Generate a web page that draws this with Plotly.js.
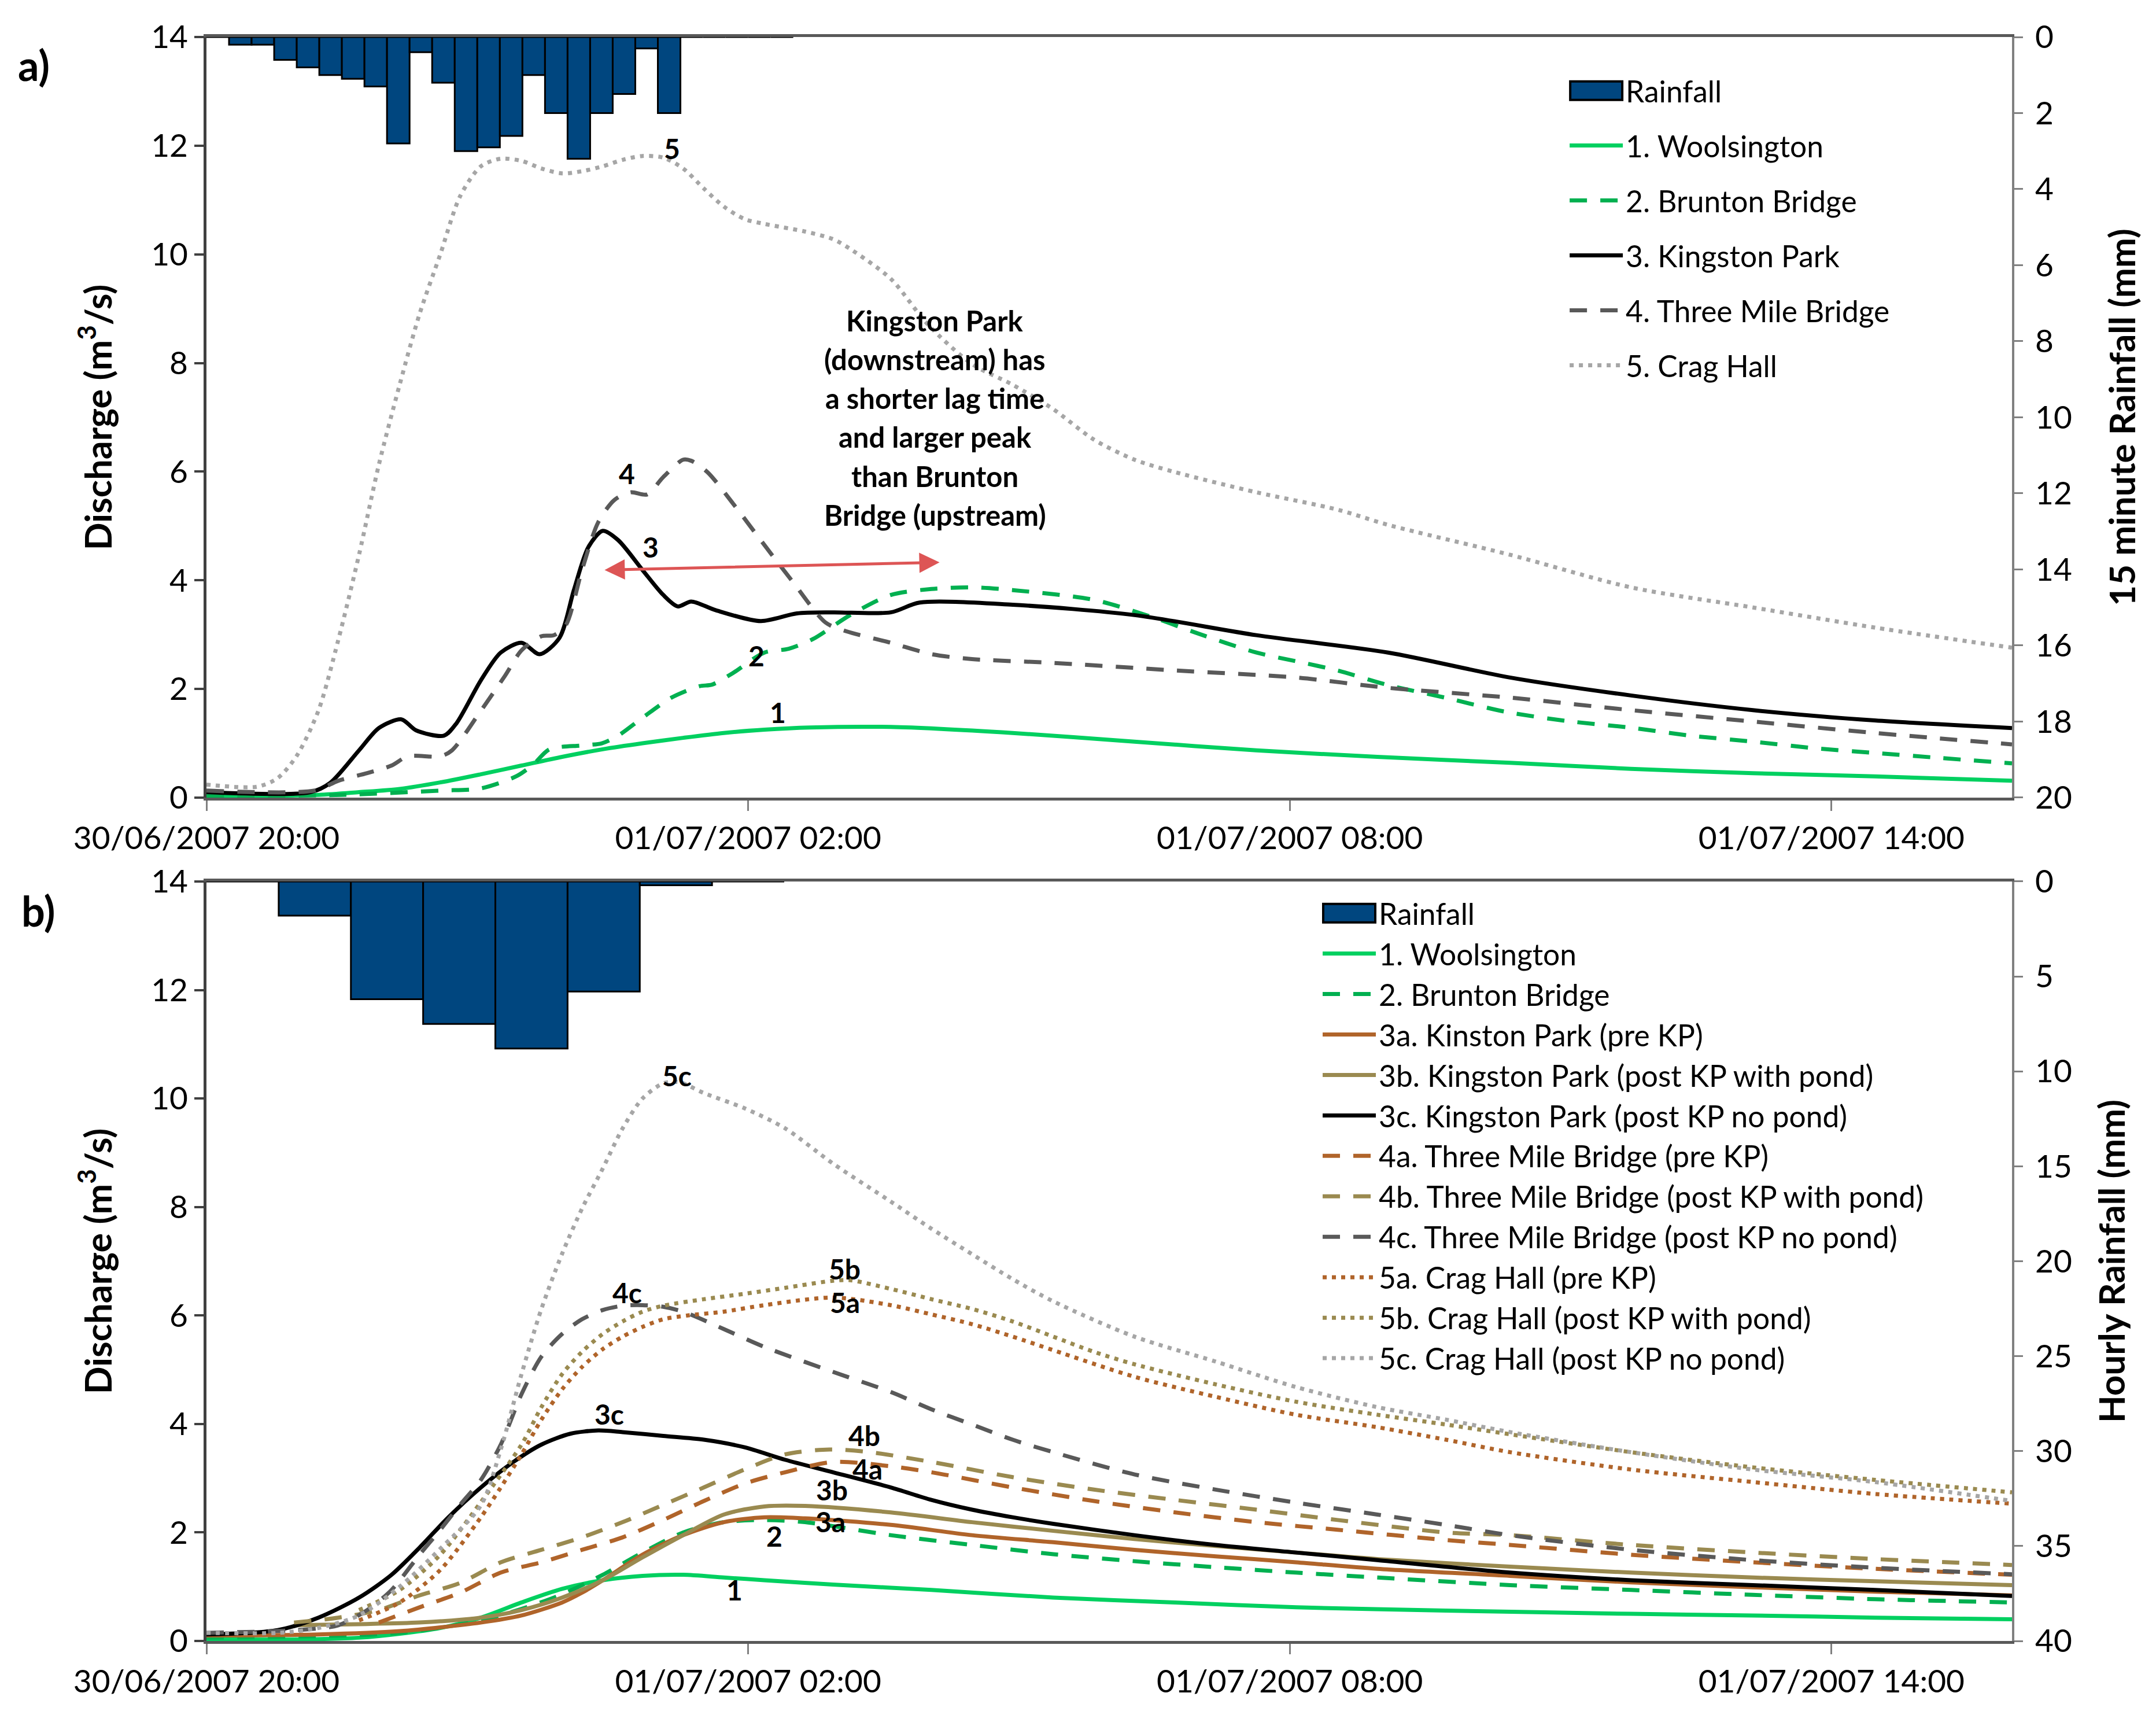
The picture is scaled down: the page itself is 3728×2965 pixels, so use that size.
<!DOCTYPE html>
<html>
<head>
<meta charset="utf-8">
<script src="https://cdn.plot.ly/plotly-3.0.1.min.js"></script>
<style>html,body{margin:0;padding:0;background:#fff;}#chart{width:3728px;height:2965px;}</style>
</head>
<body>
<div id="chart"></div>
<script>
// ---------- DATA (hours after 30/06/2007 20:00, discharge m3/s) ----------
// Panel a: 15-minute rainfall (mm), one value per 15-minute category slot
const rainA = [0, 0.2, 0.2, 0.6, 0.8, 1.0, 1.1, 1.3, 2.8, 0.4, 1.2, 3.0, 2.9, 2.6, 1.0, 2.0, 3.2, 2.0, 1.5, 0.3, 2.0, 0, 0, 0, 0, 0];
// Panel b: hourly rainfall (mm), one value per category slot
const rainB = [0, 1.8, 6.2, 7.5, 8.8, 5.8, 0.2, 0];

// Panel a series
const a1_t = [0, 1.24, 1.69, 2.14, 2.59, 3.04, 3.49, 3.94, 4.39, 4.83, 5.28, 5.73, 6.18, 6.68, 7.58, 8.93, 10.28, 11.63, 12.97, 14.44, 15.78, 17.13, 18.48, 20];
const a1_v = [0.03, 0.05, 0.10, 0.16, 0.28, 0.43, 0.59, 0.75, 0.89, 1.0, 1.10, 1.19, 1.25, 1.29, 1.30, 1.19, 1.03, 0.87, 0.75, 0.64, 0.53, 0.45, 0.39, 0.31];
const a2_t = [0, 1.5, 2.59, 3.04, 3.44, 3.62, 3.80, 4.16, 4.38, 4.56, 4.83, 5.15, 5.46, 5.60, 5.82, 6.18, 6.45, 6.72, 7.13, 7.58, 8.03, 8.48, 8.93, 9.83, 10.5, 10.95, 11.63, 12.07, 12.53, 13.09, 13.72, 14.39, 15.07, 15.76, 16.44, 17.13, 17.81, 18.5, 19.2, 20];
const a2_v = [0.03, 0.05, 0.13, 0.17, 0.40, 0.61, 0.89, 0.96, 1.0, 1.14, 1.47, 1.84, 2.05, 2.08, 2.28, 2.67, 2.74, 2.92, 3.36, 3.73, 3.84, 3.87, 3.82, 3.64, 3.31, 3.04, 2.67, 2.51, 2.34, 2.07, 1.84, 1.58, 1.41, 1.29, 1.14, 1.03, 0.91, 0.82, 0.73, 0.63];
const a3_t = [0, 1.15, 1.37, 1.69, 1.91, 2.16, 2.32, 2.63, 2.77, 3.04, 3.26, 3.49, 3.69, 3.91, 4.07, 4.23, 4.39, 4.56, 4.83, 5.06, 5.22, 5.37, 5.64, 6.14, 6.54, 6.94, 7.58, 7.90, 8.93, 10.28, 11.63, 13.09, 14.44, 15.78, 17.13, 18.48, 20];
const a3_v = [0.1, 0.1, 0.27, 0.87, 1.28, 1.44, 1.24, 1.14, 1.37, 2.16, 2.67, 2.85, 2.64, 2.94, 3.82, 4.61, 4.91, 4.74, 4.19, 3.73, 3.52, 3.61, 3.45, 3.25, 3.39, 3.41, 3.41, 3.59, 3.55, 3.36, 2.99, 2.67, 2.21, 1.88, 1.61, 1.42, 1.28];
const a4_t = [0, 1.2, 1.46, 1.78, 2.05, 2.23, 2.59, 2.72, 3.04, 3.31, 3.49, 3.71, 3.85, 3.98, 4.16, 4.34, 4.52, 4.70, 4.88, 5.06, 5.28, 5.37, 5.55, 5.82, 6.18, 6.50, 6.86, 7.09, 7.58, 8.03, 8.48, 9.38, 10.73, 12.07, 13.09, 14.44, 15.78, 17.13, 18.48, 20];
const a4_v = [0.13, 0.13, 0.31, 0.45, 0.59, 0.76, 0.76, 0.87, 1.60, 2.25, 2.71, 2.97, 2.99, 3.17, 4.19, 5.07, 5.48, 5.62, 5.58, 5.90, 6.22, 6.20, 5.99, 5.44, 4.65, 3.96, 3.22, 3.06, 2.85, 2.64, 2.55, 2.48, 2.34, 2.21, 2.02, 1.84, 1.61, 1.40, 1.19, 0.98];
const a5_t = [0, 0.56, 0.79, 1.0, 1.24, 1.46, 1.69, 1.91, 2.14, 2.36, 2.59, 2.81, 3.04, 3.26, 3.49, 3.71, 3.94, 4.16, 4.39, 4.61, 4.83, 5.06, 5.28, 5.51, 5.73, 5.96, 6.18, 6.63, 6.94, 7.13, 7.58, 7.99, 8.48, 8.93, 9.38, 9.83, 10.28, 10.73, 11.63, 12.53, 13.09, 14.44, 15.78, 17.13, 18.48, 20];
const a5_v = [0.24, 0.2, 0.36, 0.77, 1.6, 2.9, 4.47, 6.13, 7.6, 8.9, 10.0, 11.07, 11.62, 11.76, 11.72, 11.58, 11.49, 11.53, 11.62, 11.74, 11.81, 11.78, 11.58, 11.21, 10.88, 10.65, 10.56, 10.42, 10.28, 10.1, 9.55, 8.71, 7.98, 7.6, 7.15, 6.59, 6.22, 5.99, 5.62, 5.3, 5.02, 4.47, 3.87, 3.5, 3.13, 2.76];

// Panel b series
const b1_t = [0, 1.69, 2.59, 3.04, 3.49, 3.94, 4.39, 4.83, 5.28, 5.73, 6.18, 6.94, 8.03, 9.38, 10.73, 12.07, 13.73, 15.78, 17.13, 18.48, 20];
const b1_v = [0.03, 0.06, 0.24, 0.43, 0.71, 0.96, 1.12, 1.2, 1.22, 1.17, 1.12, 1.04, 0.94, 0.8, 0.71, 0.62, 0.56, 0.5, 0.47, 0.43, 0.4];
const b2_t = [0, 2.14, 3.04, 3.49, 3.94, 4.39, 4.83, 5.28, 5.73, 6.18, 6.63, 7.58, 8.48, 9.38, 10.28, 11.18, 12.07, 12.97, 14.44, 15.78, 17.13, 18.48, 20];
const b2_v = [0.06, 0.15, 0.38, 0.59, 0.86, 1.22, 1.63, 2.0, 2.19, 2.23, 2.19, 1.95, 1.77, 1.6, 1.47, 1.36, 1.26, 1.17, 1.03, 0.94, 0.85, 0.77, 0.71];
const b3a_t = [0, 1.24, 2.14, 3.04, 3.49, 3.94, 4.16, 4.39, 4.83, 5.28, 5.73, 6.18, 6.63, 7.58, 8.48, 9.38, 10.28, 11.18, 12.07, 12.97, 14.44, 15.78, 17.13, 18.48, 20];
const b3a_v = [0.1, 0.12, 0.18, 0.34, 0.47, 0.71, 0.89, 1.12, 1.59, 1.95, 2.19, 2.28, 2.26, 2.14, 1.95, 1.82, 1.68, 1.56, 1.45, 1.33, 1.2, 1.08, 0.99, 0.91, 0.84];
const b3b_t = [0.97, 1.69, 2.36, 3.04, 3.49, 3.94, 4.39, 4.83, 5.28, 5.73, 6.18, 6.63, 7.58, 8.48, 9.38, 10.28, 11.18, 12.07, 12.97, 14.44, 15.78, 17.13, 18.48, 20];
const b3b_v = [0.29, 0.31, 0.34, 0.43, 0.57, 0.8, 1.12, 1.54, 1.95, 2.33, 2.48, 2.49, 2.37, 2.19, 2.03, 1.88, 1.75, 1.63, 1.51, 1.37, 1.26, 1.17, 1.1, 1.03];
const b3c_t = [0, 0.79, 1.24, 1.69, 2.05, 2.36, 2.68, 3.04, 3.40, 3.71, 4.03, 4.34, 4.61, 5.06, 5.51, 5.96, 6.41, 6.94, 7.58, 8.03, 8.48, 8.93, 9.38, 10.28, 11.18, 12.07, 12.97, 14.44, 15.78, 17.13, 18.48, 20];
const b3c_v = [0.12, 0.2, 0.43, 0.8, 1.22, 1.72, 2.28, 2.83, 3.3, 3.62, 3.82, 3.88, 3.85, 3.78, 3.71, 3.57, 3.34, 3.11, 2.83, 2.6, 2.42, 2.28, 2.16, 1.95, 1.77, 1.63, 1.49, 1.26, 1.12, 1.03, 0.94, 0.83];
const b4a_t = [1.91, 2.36, 2.81, 3.26, 3.71, 4.16, 4.61, 5.06, 5.51, 5.96, 6.41, 6.94, 7.58, 8.03, 8.93, 9.83, 10.73, 11.63, 12.53, 13.73, 14.44, 15.78, 17.13, 18.48, 20];
const b4a_v = [0.34, 0.62, 0.89, 1.26, 1.45, 1.68, 1.91, 2.23, 2.58, 2.9, 3.11, 3.3, 3.22, 3.11, 2.83, 2.58, 2.37, 2.19, 2.05, 1.86, 1.77, 1.59, 1.45, 1.33, 1.22];
const b4b_t = [0.97, 1.46, 1.91, 2.36, 2.81, 3.26, 3.71, 4.16, 4.61, 5.06, 5.51, 5.96, 6.41, 6.9, 7.35, 8.03, 8.93, 9.83, 10.73, 11.63, 12.53, 13.73, 14.44, 15.78, 17.13, 18.48, 20];
const b4b_v = [0.34, 0.43, 0.57, 0.84, 1.07, 1.45, 1.68, 1.91, 2.19, 2.51, 2.83, 3.16, 3.44, 3.53, 3.48, 3.3, 3.02, 2.79, 2.6, 2.42, 2.23, 2.0, 1.95, 1.77, 1.63, 1.51, 1.4];
const b4c_t = [0, 1.0, 1.46, 1.78, 2.05, 2.36, 2.59, 2.81, 3.04, 3.26, 3.49, 3.71, 3.94, 4.16, 4.39, 4.61, 4.83, 5.06, 5.28, 5.73, 6.18, 6.94, 7.58, 8.03, 8.48, 8.93, 9.38, 10.28, 11.18, 12.07, 12.97, 13.73, 14.44, 15.78, 17.13, 18.48, 20];
const b4c_v = [0.15, 0.2, 0.29, 0.57, 0.94, 1.59, 2.05, 2.51, 2.97, 3.62, 4.55, 5.24, 5.66, 5.93, 6.1, 6.18, 6.19, 6.16, 6.07, 5.75, 5.42, 4.96, 4.59, 4.27, 3.99, 3.71, 3.48, 3.07, 2.79, 2.55, 2.33, 2.14, 1.95, 1.68, 1.49, 1.35, 1.23];
const b5a_t = [1.69, 2.14, 2.59, 3.04, 3.26, 3.49, 3.71, 3.94, 4.16, 4.39, 4.61, 4.83, 5.06, 5.33, 5.73, 6.18, 6.94, 7.58, 8.03, 8.48, 8.93, 9.38, 10.28, 11.18, 12.07, 12.97, 13.73, 14.44, 15.78, 17.13, 18.48, 20];
const b5a_v = [0.38, 0.71, 1.31, 2.28, 2.83, 3.44, 4.08, 4.64, 5.05, 5.38, 5.61, 5.79, 5.93, 6.0, 6.07, 6.19, 6.33, 6.19, 6.02, 5.84, 5.61, 5.36, 4.87, 4.5, 4.17, 3.94, 3.71, 3.48, 3.16, 2.93, 2.71, 2.53];
const b5b_t = [1.69, 2.14, 2.59, 3.04, 3.49, 3.71, 3.94, 4.16, 4.39, 4.61, 4.83, 5.06, 5.51, 5.96, 6.41, 6.94, 7.13, 7.58, 8.03, 8.48, 8.93, 9.38, 9.83, 10.28, 11.18, 12.07, 12.97, 13.73, 14.44, 15.78, 17.13, 18.48, 20];
const b5b_v = [0.57, 0.94, 1.59, 2.56, 3.62, 4.31, 4.92, 5.33, 5.66, 5.89, 6.07, 6.18, 6.3, 6.4, 6.51, 6.64, 6.65, 6.49, 6.3, 6.12, 5.89, 5.61, 5.33, 5.1, 4.73, 4.41, 4.17, 3.99, 3.81, 3.48, 3.2, 2.97, 2.74];
const b5c_t = [0, 0.79, 1.24, 1.69, 2.14, 2.59, 3.04, 3.26, 3.49, 3.71, 3.94, 4.16, 4.39, 4.61, 4.83, 5.06, 5.24, 5.51, 5.96, 6.41, 6.94, 7.58, 8.03, 8.48, 8.93, 9.38, 10.28, 11.18, 12.07, 12.97, 13.73, 14.44, 15.78, 17.13, 18.48, 20];
const b5c_v = [0.15, 0.15, 0.24, 0.47, 1.0, 1.7, 2.5, 3.53, 4.92, 6.12, 7.14, 7.97, 8.71, 9.45, 10.0, 10.28, 10.3, 10.1, 9.82, 9.45, 8.8, 8.1, 7.6, 7.13, 6.67, 6.26, 5.61, 5.15, 4.68, 4.31, 4.08, 3.85, 3.48, 3.16, 2.93, 2.58];

// Curve labels [text, hours, value]
const labelsA = [["5", 5.16, 11.95], ["4", 4.66, 5.97], ["3", 4.92, 4.61], ["2", 6.09, 2.61], ["1", 6.33, 1.57]];
const labelsB = [["5c", 5.21, 10.42], ["4c", 4.66, 6.42], ["3c", 4.46, 4.18], ["5b", 7.07, 6.86], ["5a", 7.07, 6.24],
                 ["4b", 7.29, 3.79], ["4a", 7.32, 3.17], ["3b", 6.93, 2.79], ["3a", 6.91, 2.20], ["2", 6.29, 1.93], ["1", 5.85, 0.94]];
const noteLines = ["Kingston Park", "(downstream) has", "a shorter lag time", "and larger peak", "than Brunton", "Bridge (upstream)"];
const noteTop = [8.07, 8.78];   // centre x (hours) and value of first line
const noteStep = 0.714;         // line spacing in discharge units
const arrowA = [[4.41, 4.19], [8.13, 4.33]];

// ---------- helpers ----------
const T0 = Date.UTC(2007, 5, 30, 20, 0, 0);
function toDate(h) { return new Date(T0 + Math.round(h * 3600000)).toISOString().slice(0, 19).replace('T', ' '); }
function dates(arr) { return arr.map(toDate); }
function idx(arr) { return arr.map((_, i) => i); }

const FONT = 'Lato, "Open Sans", sans-serif';
const C = {
  rain: '#00467F', green1: '#00D060', green2: '#00B050', black: '#000000',
  grey4: '#595959', grey5: '#A6A6A6', brown: '#B0642A', olive: '#9A8A50', red: '#DD5555'
};
const LW = 7;
const DASH = '30px,23px';
const DOT = '7px,9px';

function line(name, t, v, color, dash, xa, ya, leg, grp) {
  return { type: 'scatter', mode: 'lines', name: name, x: dates(t), y: v, xaxis: xa, yaxis: ya,
    line: { color: color, width: LW, dash: dash, shape: 'spline', smoothing: 0.8 },
    legend: leg, legendgroup: grp, hoverinfo: 'skip' };
}

const traces = [
  { type: 'bar', name: 'Rainfall', x: idx(rainA), y: rainA, width: 1, xaxis: 'x3', yaxis: 'y3',
    marker: { color: C.rain, line: { color: '#000', width: 3 } }, legend: 'legend', legendgroup: 'a0' },
  line('1. Woolsington', a1_t, a1_v, C.green1, 'solid', 'x', 'y', 'legend', 'a1'),
  line('2. Brunton Bridge', a2_t, a2_v, C.green2, DASH, 'x', 'y', 'legend', 'a2'),
  line('3. Kingston Park', a3_t, a3_v, C.black, 'solid', 'x', 'y', 'legend', 'a3'),
  line('4. Three Mile Bridge', a4_t, a4_v, C.grey4, DASH, 'x', 'y', 'legend', 'a4'),
  line('5. Crag Hall', a5_t, a5_v, C.grey5, DOT, 'x', 'y', 'legend', 'a5'),

  { type: 'bar', name: 'Rainfall', x: idx(rainB), y: rainB, width: 1, xaxis: 'x4', yaxis: 'y4',
    marker: { color: C.rain, line: { color: '#000', width: 3 } }, legend: 'legend2', legendgroup: 'b0' },
  line('1. Woolsington', b1_t, b1_v, C.green1, 'solid', 'x2', 'y2', 'legend2', 'b1'),
  line('2. Brunton Bridge', b2_t, b2_v, C.green2, DASH, 'x2', 'y2', 'legend2', 'b2'),
  line('3a. Kinston Park (pre KP)', b3a_t, b3a_v, C.brown, 'solid', 'x2', 'y2', 'legend2', 'b3a'),
  line('3b. Kingston Park (post KP with pond)', b3b_t, b3b_v, C.olive, 'solid', 'x2', 'y2', 'legend2', 'b3b'),
  line('3c. Kingston Park (post KP no pond)', b3c_t, b3c_v, C.black, 'solid', 'x2', 'y2', 'legend2', 'b3c'),
  line('4a. Three Mile Bridge (pre KP)', b4a_t, b4a_v, C.brown, DASH, 'x2', 'y2', 'legend2', 'b4a'),
  line('4b. Three Mile Bridge (post KP with pond)', b4b_t, b4b_v, C.olive, DASH, 'x2', 'y2', 'legend2', 'b4b'),
  line('4c. Three Mile Bridge (post KP no pond)', b4c_t, b4c_v, C.grey4, DASH, 'x2', 'y2', 'legend2', 'b4c'),
  line('5a. Crag Hall (pre KP)', b5a_t, b5a_v, C.brown, DOT, 'x2', 'y2', 'legend2', 'b5a'),
  line('5b. Crag Hall (post KP with pond)', b5b_t, b5b_v, C.olive, DOT, 'x2', 'y2', 'legend2', 'b5b'),
  line('5c. Crag Hall (post KP no pond)', b5c_t, b5c_v, C.grey5, DOT, 'x2', 'y2', 'legend2', 'b5c')
];

function dateAxis(anchor) {
  return { type: 'date', anchor: anchor, domain: [0, 1],
    range: [toDate(0), toDate(20)], tick0: toDate(0), dtick: 6 * 3600000, tickformat: '%d/%m/%Y %H:%M',
    ticks: 'outside', ticklen: 18, tickwidth: 3, tickcolor: '#808080',
    showline: true, linecolor: '#595959', linewidth: 5, mirror: true,
    showgrid: false, zeroline: false, tickfont: { family: FONT, size: 55, color: '#000' }, fixedrange: true };
}
function qAxis(domain, anchor, title, standoff) {
  return { domain: domain, anchor: anchor, range: [0, 14], dtick: 2, tick0: 0,
    ticks: 'outside', ticklen: 16, tickwidth: 4, tickcolor: '#404040',
    showline: true, linecolor: '#404040', linewidth: 5,
    showgrid: false, zeroline: false, tickfont: { family: FONT, size: 55, color: '#000' },
    title: { text: title, font: { family: FONT, size: 63, weight: 'bold', color: '#000' }, standoff: standoff } };
}
function rAxis(over, anchor, max, dt, title, standoff) {
  return { overlaying: over, side: 'right', anchor: anchor, range: [max, 0], dtick: dt, tick0: 0,
    ticks: 'outside', ticklen: 15, tickwidth: 3, tickcolor: '#808080', ticklabelstandoff: 10,
    showline: true, linecolor: '#808080', linewidth: 4,
    showgrid: false, zeroline: false, tickfont: { family: FONT, size: 55, color: '#000' },
    title: { text: title, font: { family: FONT, size: 62, weight: 'bold', color: '#000' }, standoff: standoff } };
}

const domA = [0.5258, 1], domB = [0, 0.4735];
const annotations = [];
const LBLFONT = { family: FONT, size: 48, weight: 'bold', color: '#000' };
labelsA.forEach(l => annotations.push({ text: l[0], x: toDate(l[1]), y: l[2], xref: 'x', yref: 'y', showarrow: false,
  xanchor: 'center', yanchor: 'middle', font: LBLFONT }));
labelsB.forEach(l => annotations.push({ text: l[0], x: toDate(l[1]), y: l[2], xref: 'x2', yref: 'y2', showarrow: false,
  xanchor: 'center', yanchor: 'middle', font: LBLFONT }));
noteLines.forEach((s, i) => annotations.push({ text: s, x: toDate(noteTop[0]), y: noteTop[1] - i * noteStep,
  xref: 'x', yref: 'y', showarrow: false, xanchor: 'center', yanchor: 'middle',
  font: { family: FONT, size: 49, weight: 'bold', color: '#000' } }));
annotations.push({ text: '', x: toDate(arrowA[0][0]), y: arrowA[0][1], ax: toDate(arrowA[1][0]), ay: arrowA[1][1],
  xref: 'x', yref: 'y', axref: 'x', ayref: 'y', showarrow: true, arrowside: 'end+start',
  arrowhead: 2, startarrowhead: 2, arrowsize: 1.4, startarrowsize: 1.4, arrowwidth: 5, arrowcolor: C.red, standoff: 0, startstandoff: 0 });
annotations.push({ text: 'a)', x: -0.0955, y: 0.9827, xref: 'paper', yref: 'paper', showarrow: false,
  xanchor: 'center', yanchor: 'middle', font: { family: FONT, size: 72, weight: 'bold', color: '#000' } });
annotations.push({ text: 'b)', x: -0.0929, y: 0.4555, xref: 'paper', yref: 'paper', showarrow: false,
  xanchor: 'center', yanchor: 'middle', font: { family: FONT, size: 72, weight: 'bold', color: '#000' } });

const layout = {
  width: 3728, height: 2965,
  margin: { l: 357, r: 249, t: 64, b: 128, pad: 0 },
  paper_bgcolor: '#fff', plot_bgcolor: '#fff',
  font: { family: FONT, size: 55, color: '#000' },
  showlegend: true,
  xaxis: dateAxis('y'),
  yaxis: qAxis(domA, 'x', 'Discharge (m<sup>3</sup>/s)', 49),
  xaxis2: dateAxis('y2'),
  yaxis2: qAxis(domB, 'x2', 'Discharge (m<sup>3</sup>/s)', 49),
  xaxis3: { overlaying: 'x', anchor: 'y', range: [-0.5, 79.5], visible: false, fixedrange: true },
  yaxis3: rAxis('y', 'x', 20, 2, '15 minute Rainfall (mm)', 68),
  xaxis4: { overlaying: 'x2', anchor: 'y2', range: [-0.5, 24.5], visible: false, fixedrange: true },
  yaxis4: rAxis('y2', 'x2', 40, 5, 'Hourly Rainfall (mm)', 50),
  legend: { x: 0.7534, xanchor: 'left', y: 0.981, yanchor: 'top', bgcolor: 'rgba(0,0,0,0)', borderwidth: 0,
    font: { family: FONT, size: 51.5, color: '#000' }, itemwidth: 92, traceorder: 'grouped', tracegroupgap: 25 },
  legend2: { x: 0.6166, xanchor: 'left', y: 0.4682, yanchor: 'top', bgcolor: 'rgba(0,0,0,0)', borderwidth: 0,
    font: { family: FONT, size: 51.5, color: '#000' }, itemwidth: 92, traceorder: 'grouped', tracegroupgap: 0 },
  annotations: annotations
};

// thicker legend lines and a rectangular rainfall swatch, as in the original
function fixLegend() {
  const gd = document.getElementById('chart');
  gd.querySelectorAll('g.legendlines path').forEach(function (p) { p.style.strokeWidth = LW + 'px'; });
  gd.querySelectorAll('g.legendpoints path').forEach(function (p) {
    if (p.getAttribute('d') && p.getAttribute('d').indexOf('M6,6H-6V-6H6Z') === 0) {
      p.setAttribute('d', 'M-45,16H45V-16H-45Z');
      p.style.strokeWidth = '4px';
      p.style.stroke = '#000';
    }
  });
}
Plotly.newPlot('chart', traces, layout, { staticPlot: true, displayModeBar: false }).then(function (gd) {
  fixLegend();
  gd.on && gd.on('plotly_afterplot', fixLegend);
  let n = 0;
  const timer = setInterval(function () { fixLegend(); if (++n > 30) clearInterval(timer); }, 100);
});
</script>
</body>
</html>
